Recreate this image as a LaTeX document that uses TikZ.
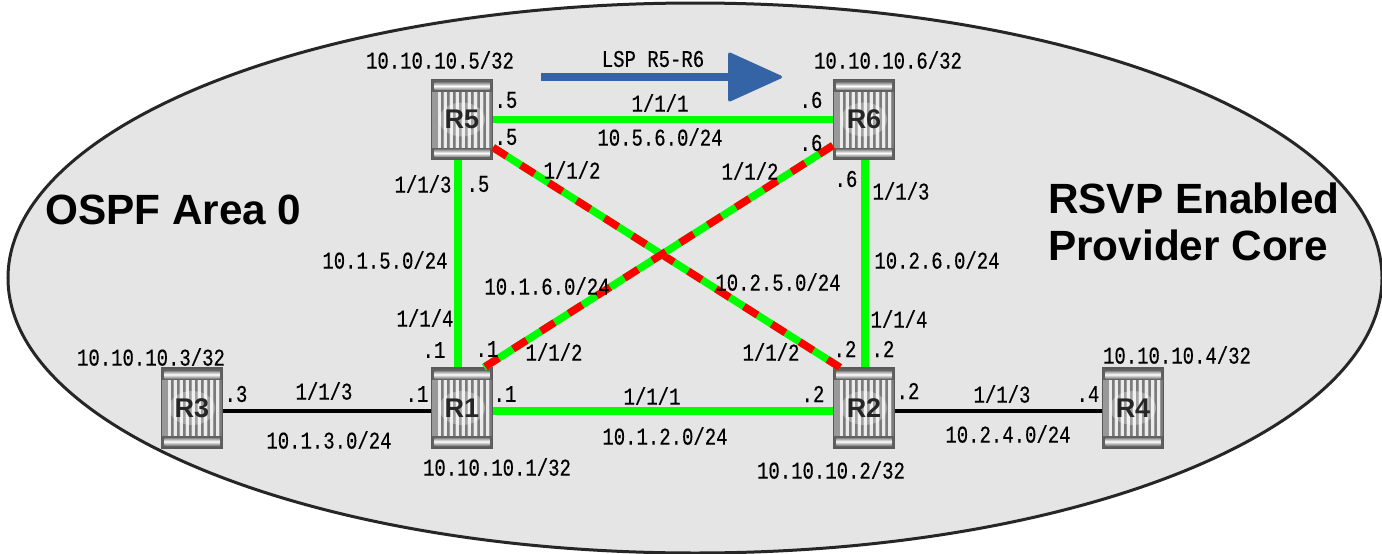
\documentclass[tikz,border=0pt]{standalone}
\usepackage{fontspec}
\setsansfont{Liberation Sans}
\newfontfamily\lblfont[FakeStretch=0.79,FakeBold=0.4]{Liberation Mono}
\usetikzlibrary{arrows.meta,calc}
\definecolor{areagray}{RGB}{229,229,229}
\definecolor{lspblue}{RGB}{52,100,165}
\definecolor{linkgreen}{RGB}{0,255,0}
\definecolor{linkred}{RGB}{255,0,0}
\tikzset{
 x=1pt,y=-1pt,
 lbl/.style={font=\lblfont\fontsize{24}{24}\selectfont,text=black,inner sep=0pt},
 title/.style={font=\sffamily\bfseries\fontsize{42.3}{50}\selectfont,text=black,inner sep=0pt,align=left},
 router/.style={draw=black!65,line width=1.2pt,minimum width=61pt,minimum height=80pt,inner sep=0pt,
   font=\sffamily\bfseries\fontsize{27}{27}\selectfont,text=black!85,
   path picture={
     \fill[black!40] (path picture bounding box.south west) rectangle (path picture bounding box.north east);
     \foreach \i in {0.1,0.2,...,0.95}{
       \fill[white!92!black] ($(path picture bounding box.south west)!\i!(path picture bounding box.south east)$) rectangle ++(3,-80);
       \fill[black!52] ($(path picture bounding box.south west)!\i+0.055!(path picture bounding box.south east)$) rectangle ++(2,-80);
     }
     \fill[white,opacity=.3] (path picture bounding box.center) ellipse (23 and 17);
     \fill[black!62] ($(path picture bounding box.north west)$) rectangle ($(path picture bounding box.north east)+(0,12)$);
     \fill[black!62] ($(path picture bounding box.south west)$) rectangle ($(path picture bounding box.south east)+(0,-12)$);
     \shade[top color=black!45,bottom color=black!45,middle color=white]
       ($(path picture bounding box.north west)+(3,3)$) rectangle ($(path picture bounding box.north east)+(-3,10)$);
     \shade[top color=black!45,bottom color=black!45,middle color=white]
       ($(path picture bounding box.south west)+(3,-3)$) rectangle ($(path picture bounding box.south east)+(-3,-10)$);
   }},
 greenlink/.style={draw=linkgreen,line width=7.5pt},
 blacklink/.style={draw=black,line width=3.5pt},
 dashlink/.style={draw=linkred,line width=7.5pt,dash pattern=on 16pt off 17pt},
 lsparrow/.style={draw=lspblue,line width=8pt,-{Triangle[length=56pt,width=50pt,round,line width=3pt]}},
}
\begin{document}
\begin{tikzpicture}
\useasboundingbox (0,0) rectangle (1382,554);
\fill[white] (0,0) rectangle (1382,554);
\draw[fill=areagray,draw=black!85,line width=3pt] (695,278) ellipse (687 and 275);

\node[router] (R5) at (462,119.5) {R5};
\node[router] (R6) at (864,119.5) {R6};
\node[router] (R1) at (462,408) {R1};
\node[router] (R2) at (864,408) {R2};
\node[router] (R3) at (192,408) {R3};
\node[router] (R4) at (1133,408) {R4};

\draw[greenlink] (R5.east) -- (R6.west);
\draw[greenlink] ([shift={(-4,0)}]R5.south) -- ([shift={(-4,0)}]R1.north);
\draw[greenlink] ([shift={(1,0)}]R6.south) -- ([shift={(1,0)}]R2.north);
\draw[greenlink] ([shift={(0,3)}]R1.east) -- ([shift={(0,3)}]R2.west);
\draw[blacklink] ([shift={(0,3)}]R3.east) -- ([shift={(0,3)}]R1.west);
\draw[blacklink] ([shift={(0,3)}]R2.east) -- ([shift={(0,3)}]R4.west);
\draw[greenlink] ([shift={(0,28)}]R5.east) -- ([shift={(-24,0)}]R2.north);
\draw[dashlink] ([shift={(0,28)}]R5.east) -- ([shift={(-24,0)}]R2.north);
\draw[greenlink] ([shift={(0,26)}]R6.west) -- ([shift={(22,0)}]R1.north);
\draw[dashlink] ([shift={(0,26)}]R6.west) -- ([shift={(22,0)}]R1.north);

\coordinate (lspa) at (541,77);
\coordinate (lspb) at (782,77);
\draw[lsparrow] (lspa) -- (lspb);

\node[lbl] (a5) at (440,60) {10.10.10.5/32};
\node[lbl] (a6) at (888,60) {10.10.10.6/32};
\node[lbl] (a3) at (151,357) {10.10.10.3/32};
\node[lbl] (a4) at (1177,355) {10.10.10.4/32};
\node[lbl] (a1) at (497,467) {10.10.10.1/32};
\node[lbl] (a2) at (831,470) {10.10.10.2/32};
\node[lbl] (lsp) at (653,59) {LSP R5-R6};

\node[lbl] (p56a) at (660,103) {1/1/1};
\node[lbl] (n56) at (660,137) {10.5.6.0/24};
\node[lbl] (e5a) at (506,100) {.5};
\node[lbl] (e5b) at (506,137) {.5};
\node[lbl] (e6a) at (811,100) {.6};
\node[lbl] (e6b) at (811,143) {.6};
\node[lbl] (p51) at (423,184) {1/1/3};
\node[lbl] (e5c) at (478,184) {.5};
\node[lbl] (p52) at (572,170) {1/1/2};
\node[lbl] (p61) at (750,171) {1/1/2};
\node[lbl] (e6c) at (846,179) {.6};
\node[lbl] (p62) at (901,191) {1/1/3};
\node[lbl] (n15) at (385,260) {10.1.5.0/24};
\node[lbl] (n26) at (937,260) {10.2.6.0/24};
\node[lbl] (n16) at (547,286) {10.1.6.0/24};
\node[lbl] (n25) at (778,282) {10.2.5.0/24};
\node[lbl] (p14) at (425,318) {1/1/4};
\node[lbl] (p24) at (899,319) {1/1/4};
\node[lbl] (e1a) at (434,350) {.1};
\node[lbl] (e1b) at (487,349) {.1};
\node[lbl] (p12) at (554,352) {1/1/2};
\node[lbl] (p22) at (771,352) {1/1/2};
\node[lbl] (e2a) at (845,349) {.2};
\node[lbl] (e2b) at (883,349) {.2};
\node[lbl] (e3) at (236,394) {.3};
\node[lbl] (p31) at (324,391) {1/1/3};
\node[lbl] (e1c) at (417,394) {.1};
\node[lbl] (e1d) at (505,394) {.1};
\node[lbl] (p11) at (652,396) {1/1/1};
\node[lbl] (e2c) at (813,394) {.2};
\node[lbl] (e2d) at (908,391) {.2};
\node[lbl] (p43) at (1002,394) {1/1/3};
\node[lbl] (e4) at (1088,394) {.4};
\node[lbl] (n13) at (329,440) {10.1.3.0/24};
\node[lbl] (n12) at (665,436) {10.1.2.0/24};
\node[lbl] (n24) at (1008,434) {10.2.4.0/24};

\node[title,anchor=west] (ospf) at (45,210) {OSPF Area 0};
\node[title,anchor=west] (rsvp) at (1048,222) {RSVP Enabled\\[-3pt]Provider Core};
\end{tikzpicture}
\end{document}
